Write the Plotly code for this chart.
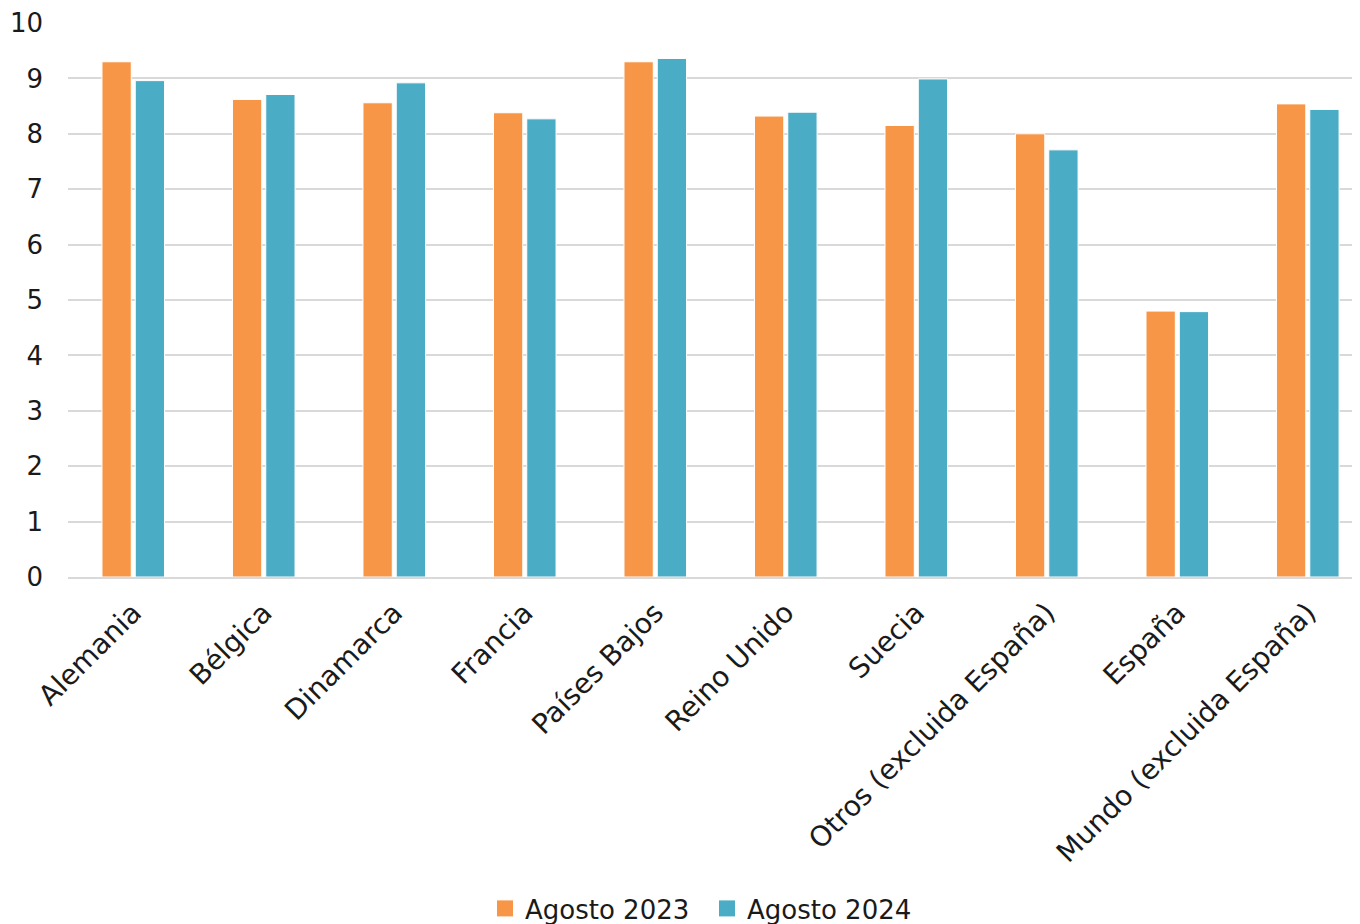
import plotly.graph_objects as go

categories = ["Alemania", "Bélgica", "Dinamarca", "Francia", "Países Bajos",
              "Reino Unido", "Suecia", "Otros (excluida España)", "España",
              "Mundo (excluida España)"]
agosto_2023 = [9.30, 8.62, 8.56, 8.38, 9.30, 8.32, 8.15, 8.00, 4.80, 8.54]
agosto_2024 = [8.96, 8.71, 8.92, 8.27, 9.36, 8.39, 8.99, 7.71, 4.79, 8.44]
series_names = ["Agosto 2023", "Agosto 2024"]
colors = ["#F79646", "#4BACC6"]

FONT = "DejaVu Sans"
W, H = 1352, 924

fig = go.Figure()
for name, vals, col in zip(series_names, [agosto_2023, agosto_2024], colors):
    fig.add_trace(go.Bar(name=name, x=categories, y=vals, showlegend=False,
                         marker=dict(color=col, line=dict(color="white", width=1))))
for name, col in zip(series_names, colors):
    fig.add_trace(go.Scatter(name=name, x=[None], y=[None], mode="markers",
                             marker=dict(symbol="square", size=16, color=col)))

fig.update_layout(
    width=W, height=H,
    barmode="group", bargap=0.49, bargroupgap=0.12,
    plot_bgcolor="white", paper_bgcolor="white",
    margin=dict(l=60, r=0, t=13, b=355),
    font=dict(family=FONT, size=26, color="#1a1a1a"),
    legend=dict(orientation="h", xref="container", x=(497 - 8 - 12) / W,
                xanchor="left", yref="container",
                y=0.0, yanchor="bottom", font=dict(size=26), itemwidth=30,
                entrywidth=177, traceorder="normal"),
    xaxis=dict(tickangle=-45, showline=True, linecolor="#d9d9d9", linewidth=2,
               ticks="", tickfont=dict(size=28), ticklabelstandoff=6,
               range=[-0.5, 9.4]),
    yaxis=dict(range=[0, 10], dtick=1, showgrid=True, gridcolor="#d9d9d9",
               gridwidth=1.5, zeroline=False, ticks="", ticklabelstandoff=24,
               ticklabeloverflow="allow", tickfont=dict(size=26)),
)

fig.write_html("out.html")
